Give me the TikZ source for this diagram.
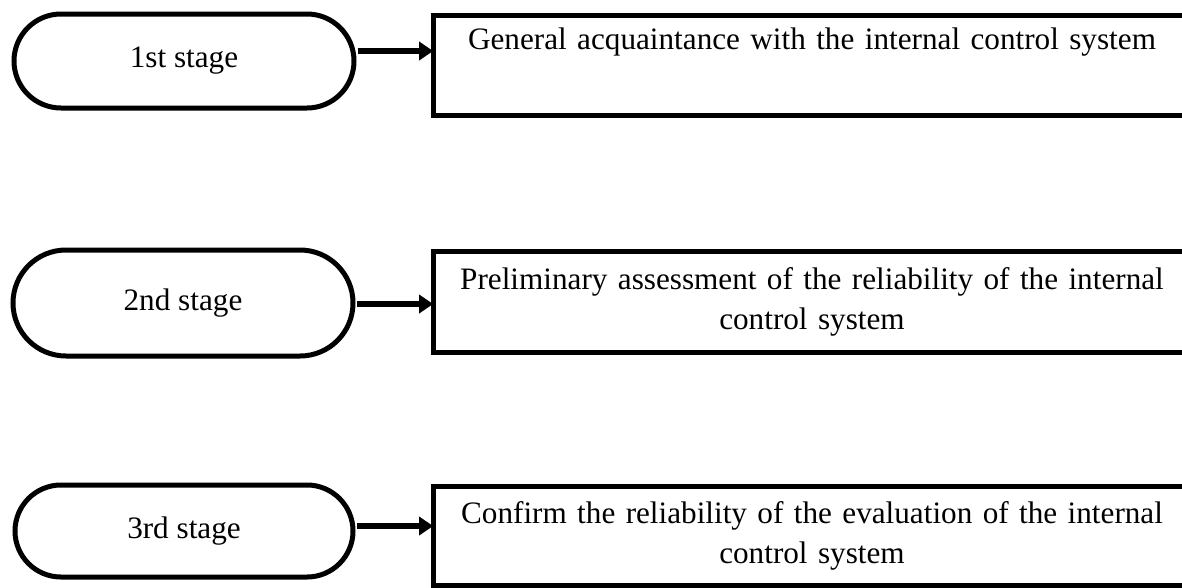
\documentclass[tikz,border=0pt]{standalone}
\usepackage{fontspec}
\setmainfont{Liberation Serif}
\usetikzlibrary{shapes.misc,arrows.meta}

\tikzset{every picture/.style={line width=3.75pt}}
\tikzset{
  stagepill/.style={draw, rounded rectangle, minimum width=255pt, inner sep=0pt,
    font=\fontsize{23.4}{30}\selectfont},
  stepbox/.style={draw, rectangle, minimum width=568.5pt, text width=560pt, inner sep=0pt,
    align=center, font=\fontsize{23.4}{30}\selectfont},
  flowarrow/.style={line width=4.9pt, -{Triangle[length=10.5pt,width=13.5pt]}}
}

\begin{document}
\begin{tikzpicture}[x=0.75pt,y=0.75pt,yscale=-1,xscale=1]
\useasboundingbox (0,0) rectangle (1182,587);
\clip (0,0) rectangle (1182,587);

%Shape: Rounded Rect
\node [stagepill, minimum height=70.5pt] (s1) at (184,61) {1st stage};
\node [stagepill, minimum height=79.5pt] (s2) at (183,303) {2nd stage};
\node [stagepill, minimum height=69pt, minimum width=253.5pt] (s3) at (184,531) {3rd stage};

%Shape: Rectangle
\node [stepbox, minimum height=75pt] (b1) at (812,65)
  {General acquaintance with the internal control system\\ \strut};
\node [stepbox, minimum height=75.75pt] (b2) at (812,301.5)
  {Preliminary assessment of the reliability of the internal\\ control system};
\node [stepbox, minimum height=74.25pt] (b3) at (812,536)
  {Confirm the reliability of the evaluation of the internal\\ control system};

%Straight Lines
\coordinate (a1) at ([xshift=0.75pt,yshift=-7.5pt]s1.east);
\coordinate (a2) at ([xshift=0.75pt,yshift=0.75pt]s2.east);
\coordinate (a3) at ([xshift=0.75pt,yshift=-3.75pt]s3.east);
\draw [flowarrow] (a1) -- ([xshift=2pt]a1 -| b1.west);
\draw [flowarrow] (a2) -- ([xshift=2pt]a2 -| b2.west);
\draw [flowarrow] (a3) -- ([xshift=2pt]a3 -| b3.west);

\end{tikzpicture}
\end{document}
